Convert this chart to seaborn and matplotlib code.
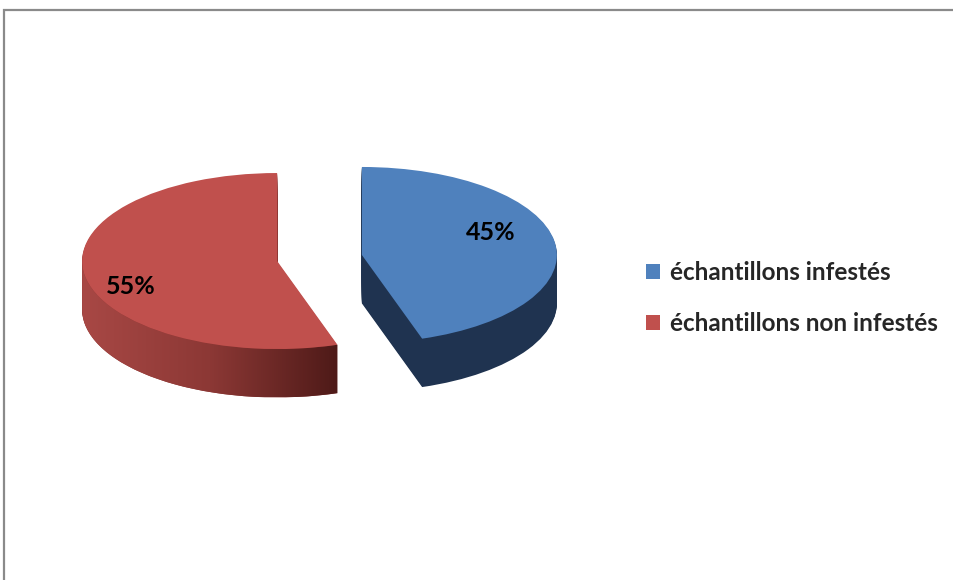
import numpy as np
import matplotlib
matplotlib.use("Agg")
import matplotlib.pyplot as plt
import seaborn as sns
from matplotlib.colors import LinearSegmentedColormap
from matplotlib.patches import Polygon, Rectangle

# Données du graphique
categories = ["échantillons infestés", "échantillons non infestés"]
values = [45, 55]
top_colors = ["#4f81bd", "#c0504d"]
side_colors = ["#1f3350", "#8a3431"]
red_side_gradient = ["#a84845", "#8c3835", "#4e1a18"]

sns.set_theme(style="white")
plt.rcParams["font.family"] = ["Lato", "DejaVu Sans"]

fig = plt.figure(figsize=(9.54, 5.8), dpi=100)
ax = fig.add_axes([0, 0, 1, 1])

depth = 0.55       # épaisseur du "3D" en unités y
explode = [0.22, 0.22]
n_layers = 50
pie_kw = dict(startangle=90, counterclock=False, explode=explode)

# côtés (empilement de camemberts sombres)
for k in range(n_layers, 0, -1):
    off = -depth * k / n_layers
    ax.pie(values, colors=side_colors, center=(0, off),
           wedgeprops=dict(linewidth=0, antialiased=True), **pie_kw)

# surface du dessus
wedges, _, autotexts = ax.pie(values, colors=top_colors, center=(0, 0),
                              autopct="%1.0f%%", pctdistance=0.74,
                              textprops=dict(fontsize=18, fontweight="bold", color="black"),
                              wedgeprops=dict(linewidth=0), **pie_kw)
for w in wedges:
    w.set_zorder(3)
for t in autotexts:
    t.set_zorder(4)
autotexts[0].set_position((autotexts[0].get_position()[0] - 0.07, autotexts[0].get_position()[1] + 0.14))
autotexts[1].set_position((autotexts[1].get_position()[0] - 0.02, autotexts[1].get_position()[1] - 0.17))


def side_polygon(w):
    cx, cy = w.center
    th = np.linspace(w.theta1, w.theta2, 300)
    th = th[np.sin(np.deg2rad(th)) <= 0]
    x = cx + w.r * np.cos(np.deg2rad(th))
    y = cy + w.r * np.sin(np.deg2rad(th))
    return np.column_stack([np.concatenate([x, x[::-1]]),
                            np.concatenate([y, y[::-1] - depth])])


# dégradé sur le côté rouge
red = wedges[1]
poly = Polygon(side_polygon(red), closed=True, transform=ax.transData)
pts = poly.get_xy()
cmap = LinearSegmentedColormap.from_list("rouge", red_side_gradient)
img = ax.imshow(np.linspace(0, 1, 256)[None, :], cmap=cmap, aspect="auto",
                extent=(pts[:, 0].min(), pts[:, 0].max(), pts[:, 1].min(), pts[:, 1].max()),
                zorder=2)
img.set_clip_path(poly)

rx, ry, cx0, cy0 = 195, 88, 319.5, 258
ax.set_aspect("auto")
ax.set_xlim(-cx0 / rx, (954 - cx0) / rx)
ax.set_ylim(-(580 - cy0) / ry, cy0 / ry)
ax.axis("off")

fig.legend(handles=wedges, labels=categories, loc="center left",
           bbox_to_anchor=(624 / 954, 1 - 298 / 580), frameon=False,
           prop=dict(family=["Lato", "DejaVu Sans"], weight="bold", size=17.5),
           handlelength=0.6, handleheight=0.6, labelspacing=1.15, handletextpad=0.4)

# cadre gris
fig.add_artist(Rectangle((4 / 954, -0.1), 2, 1 - 10 / 580 + 0.1, transform=fig.transFigure,
                         fill=False, edgecolor="#8a8a8a", linewidth=1.6))

fig.savefig("out.png", dpi=100, facecolor="white")
